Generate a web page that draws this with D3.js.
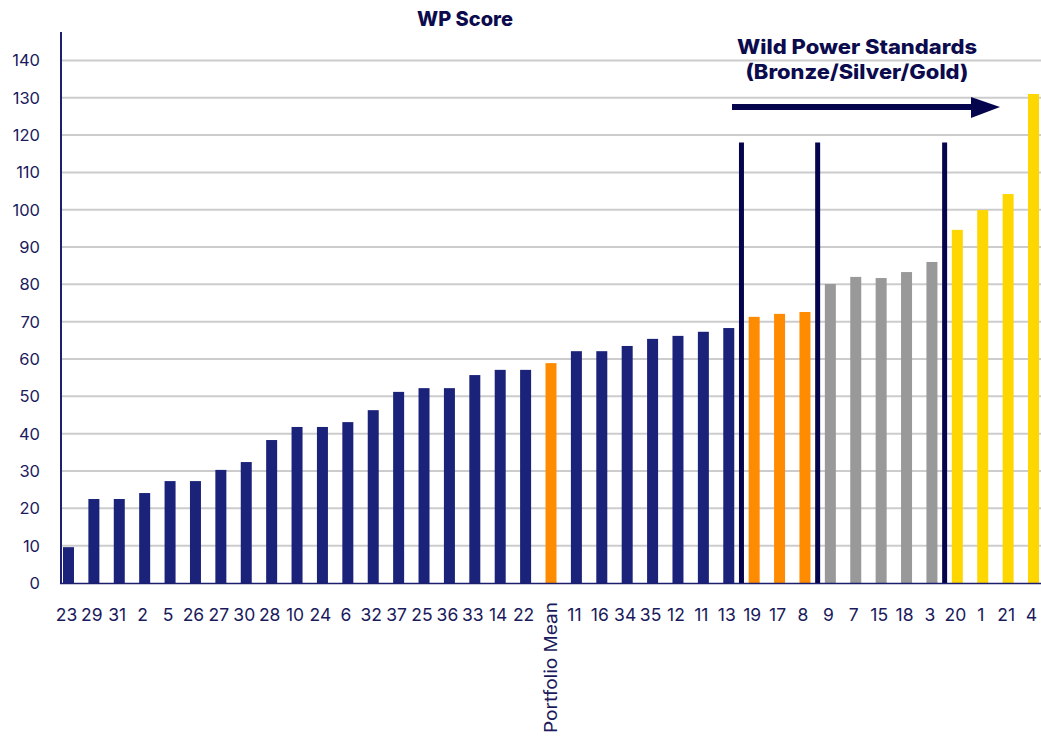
<!DOCTYPE html>
<html>
<head>
<meta charset="utf-8">
<script src="https://cdn.jsdelivr.net/npm/d3@7"></script>
<style>
  body { margin: 0; background: #fff; }
  text { font-family: Inter, "Noto Sans", sans-serif; fill: #1a1a5c; }
</style>
</head>
<body>
<div id="chart"></div>
<script>
// sites sorted by WP score
const categories = ["23", "29", "31", "2", "5", "26", "27", "30", "28", "10", "24", "6", "32", "37",
  "25", "36", "33", "14", "22", "Portfolio Mean", "11", "16", "34", "35", "12", "11", "13",
  "19", "17", "8", "9", "7", "15", "18", "3", "20", "1", "21", "4"];
const scores = [9.6, 22.5, 22.5, 24.1, 27.3, 27.3, 30.3, 32.4, 38.3, 41.8, 41.8, 43.1, 46.3, 51.2,
  52.2, 52.2, 55.7, 57.1, 57.1, 58.9, 62.1, 62.1, 63.5, 65.4, 66.2, 67.3, 68.3,
  71.3, 72.1, 72.6, 80.1, 82.0, 81.7, 83.3, 86.0, 94.6, 99.9, 104.2, 131];
const tiers = ["none", "none", "none", "none", "none", "none", "none", "none", "none", "none", "none",
  "none", "none", "none", "none", "none", "none", "none", "none", "mean", "none", "none", "none",
  "none", "none", "none", "none", "bronze", "bronze", "bronze", "silver", "silver", "silver",
  "silver", "silver", "gold", "gold", "gold", "gold"];
const yTicks = [0, 10, 20, 30, 40, 50, 60, 70, 80, 90, 100, 110, 120, 130, 140];
// standard thresholds drawn as dividers, after these bar indexes
const dividerAfter = [26, 29, 34];
const dividerHeight = 118;

const tierColor = { none: "#1b2279", mean: "#ff8c00", bronze: "#ff8c00", silver: "#999999", gold: "#ffd700" };

const width = 1041, height = 736;
const svg = d3.select("#chart").append("svg")
    .attr("width", width)
    .attr("height", height);

const x = d3.scaleBand()
    .domain(d3.range(categories.length))
    .range([55.8, 1046.2])
    .paddingInner(0.567)
    .paddingOuter(0.283);

const y = d3.scaleLinear()
    .domain([0, 140])
    .range([583, 60.4]);

// gridlines
svg.selectAll(".grid")
    .data(yTicks.filter(d => d > 0))
    .enter().append("line")
    .attr("x1", 62)
    .attr("x2", width)
    .attr("y1", d => y(d))
    .attr("y2", d => y(d))
    .attr("stroke", "#cccccc")
    .attr("stroke-width", 2);

// y labels
svg.selectAll(".ylab")
    .data(yTicks)
    .enter().append("text")
    .attr("x", 40)
    .attr("y", d => y(d))
    .attr("dy", "0.36em")
    .attr("text-anchor", "end")
    .attr("font-size", 16.5)
    .text(d => d);

// bars
svg.selectAll(".bar")
    .data(scores)
    .enter().append("rect")
    .attr("x", (d, i) => x(i))
    .attr("width", x.bandwidth())
    .attr("y", d => y(d))
    .attr("height", d => y(0) - y(d))
    .attr("fill", (d, i) => tierColor[tiers[i]]);

// dividers between tiers
svg.selectAll(".divider")
    .data(dividerAfter)
    .enter().append("line")
    .attr("x1", d => (x(d) + x(d + 1) + x.bandwidth()) / 2)
    .attr("x2", d => (x(d) + x(d + 1) + x.bandwidth()) / 2)
    .attr("y1", y(0))
    .attr("y2", y(dividerHeight))
    .attr("stroke", "#05054d")
    .attr("stroke-width", 5);

// axes lines
svg.append("line")
    .attr("x1", 61).attr("x2", 61)
    .attr("y1", 32).attr("y2", 584)
    .attr("stroke", "#1b1f6e").attr("stroke-width", 2);
svg.append("line")
    .attr("x1", 60).attr("x2", width)
    .attr("y1", 583.5).attr("y2", 583.5)
    .attr("stroke", "#1b1f6e").attr("stroke-width", 1.5);

// x labels
svg.selectAll(".xlab")
    .data(categories)
    .enter().append("text")
    .attr("transform", (d, i) => {
        const cx = x(i) + x.bandwidth() / 2;
        return d.length > 3 ? `translate(${cx + 6},602) rotate(-90)` : `translate(${cx - 2},621)`;
    })
    .attr("text-anchor", d => d.length > 3 ? "end" : "middle")
    .attr("font-size", 17.5)
    .attr("textLength", d => d.length > 3 ? 131 : null)
    .attr("lengthAdjust", "spacingAndGlyphs")
    .text(d => d);

// title
svg.append("text")
    .attr("x", 465)
    .attr("y", 26)
    .attr("text-anchor", "middle")
    .attr("font-size", 20)
    .attr("font-weight", 800)
    .style("fill", "#0b0b4d")
    .text("WP Score");

// standards annotation
svg.append("text")
    .attr("x", 857)
    .attr("y", 54)
    .attr("text-anchor", "middle")
    .attr("font-size", 20)
    .attr("font-weight", 800)
    .attr("textLength", 240)
    .attr("lengthAdjust", "spacingAndGlyphs")
    .style("fill", "#0b0b4d")
    .text("Wild Power Standards");
svg.append("text")
    .attr("x", 857)
    .attr("y", 79)
    .attr("text-anchor", "middle")
    .attr("font-size", 20)
    .attr("font-weight", 800)
    .attr("textLength", 223)
    .attr("lengthAdjust", "spacingAndGlyphs")
    .style("fill", "#0b0b4d")
    .text("(Bronze/Silver/Gold)");

svg.append("line")
    .attr("x1", 732).attr("x2", 973)
    .attr("y1", 107).attr("y2", 107)
    .attr("stroke", "#05054d").attr("stroke-width", 6);
svg.append("path")
    .attr("d", "M971,97 L1000,107 L971,118 Z")
    .attr("fill", "#05054d");
</script>
</body>
</html>
